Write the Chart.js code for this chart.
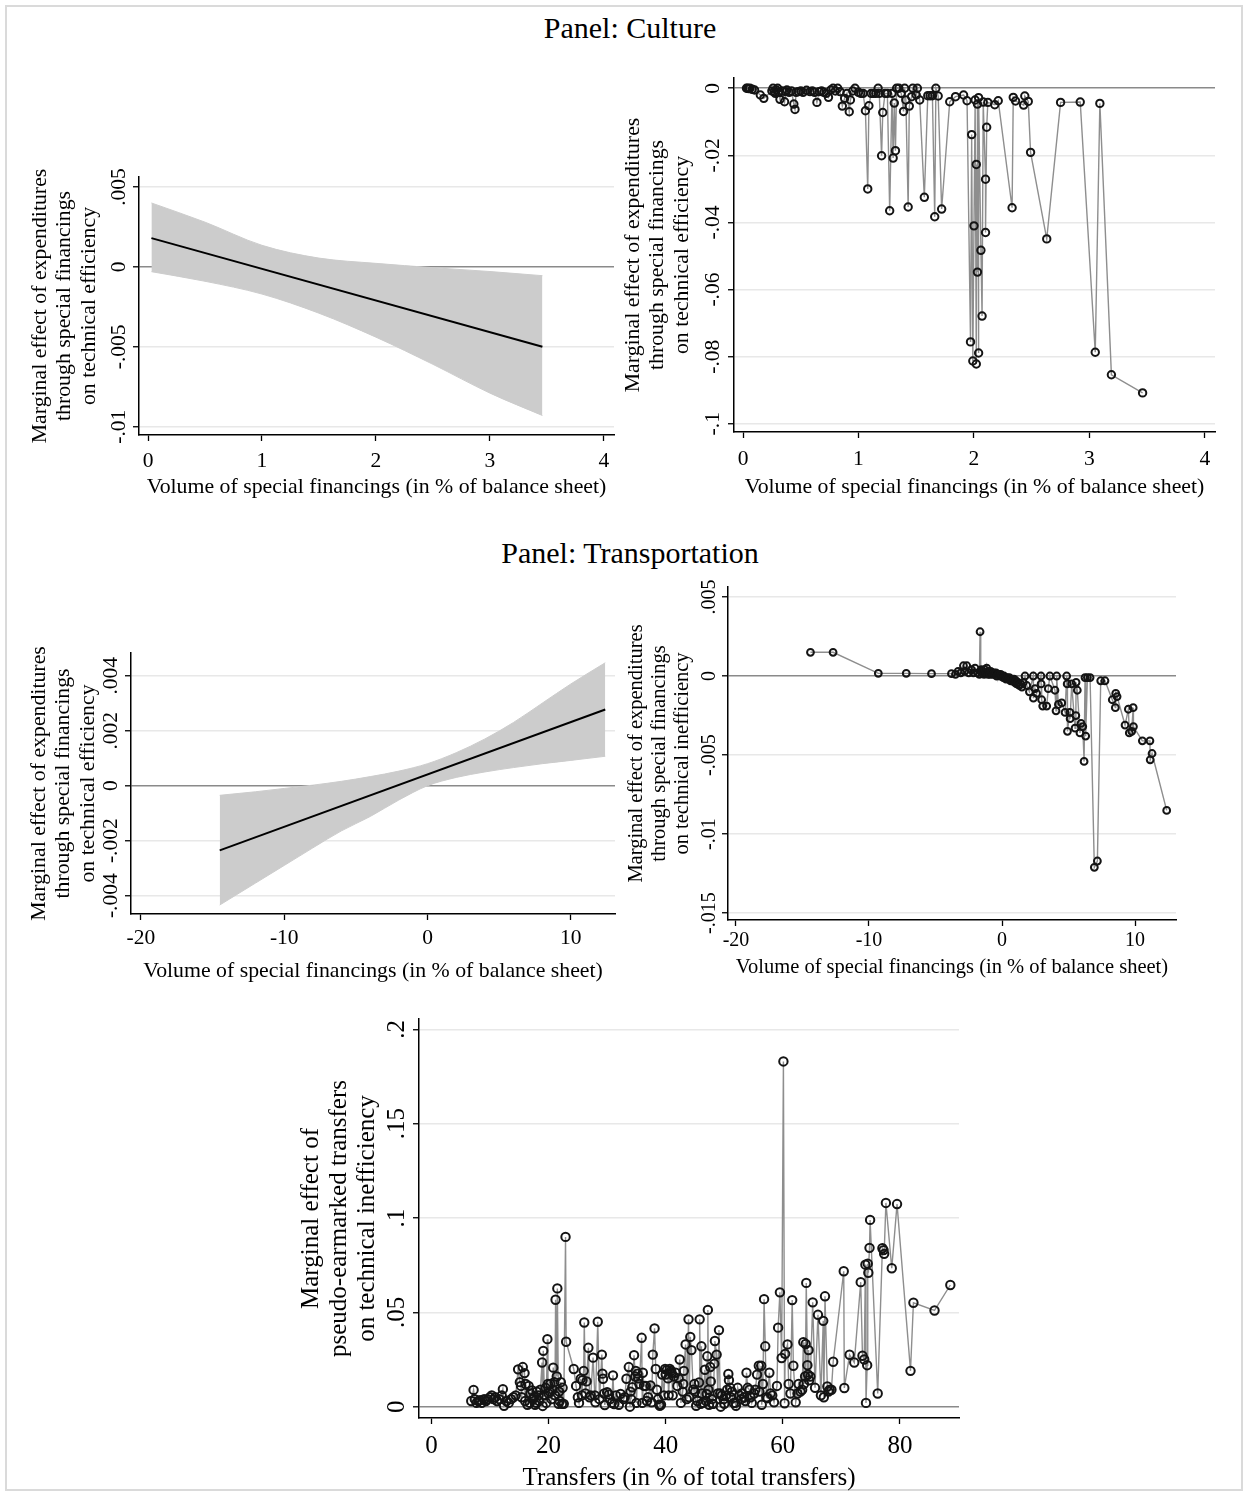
<!DOCTYPE html>
<html>
<head>
<meta charset="utf-8">
<script src="https://cdn.jsdelivr.net/npm/chart.js@4/dist/chart.umd.min.js"></script>
<style>
  html, body { margin: 0; padding: 0; background: #fff; }
  body { position: relative; width: 1247px; height: 1495px; overflow: hidden;
         font-family: "Liberation Serif", "Times New Roman", serif; color: #000; }
  #frame { position: absolute; left: 5px; top: 5px; width: 1234px; height: 1482px;
           border: 2px solid #dadada; }
  .panel-title { position: absolute; left: 0; width: 1260px; text-align: center;
                 font-size: 30px; line-height: 34px; }
  canvas { position: absolute; }
</style>
</head>
<body>
<div id="frame"></div>
<div class="panel-title" style="top:11px">Panel: Culture</div>
<div class="panel-title" style="top:536px">Panel: Transportation</div>

<script>
// ---------- Culture: linear marginal effect with 95% band ----------
const cultureLineX = [0.03, 3.46];
const cultureLineY = [0.0018, -0.0050];
const cultureBandX = [0.03, 0.5, 1.0, 1.5, 2.0, 2.5, 3.0, 3.46];
const cultureBandUpper = [0.0040, 0.0028, 0.00135, 0.00055, 0.00022, -0.00005, -0.00029, -0.00055];
const cultureBandLower = [-0.0003, -0.0009, -0.0017, -0.0029, -0.0044, -0.0061, -0.0079, -0.0093];

// ---------- Culture: observation-level marginal effects ----------
const cultureEffects = [
  [0.03,0],[0.04,0],[0.05,-0.0001],[0.06,0],[0.08,-0.0003],[0.10,-0.0005],[0.15,-0.002],[0.18,-0.003],
  [0.25,-0.0008],[0.26,0],[0.27,-0.001],[0.28,-0.0015],[0.29,-0.0005],[0.30,0],[0.31,-0.0012],[0.32,-0.0033],
  [0.34,-0.0008],[0.36,-0.004],[0.37,-0.001],[0.38,-0.0005],[0.40,-0.0012],[0.42,-0.0008],[0.44,-0.0047],
  [0.45,-0.0063],[0.46,-0.0012],[0.48,-0.001],[0.50,-0.0008],[0.52,-0.0012],[0.55,-0.0006],[0.58,-0.001],
  [0.60,-0.0008],[0.62,-0.0012],[0.64,-0.0042],[0.66,-0.001],[0.68,-0.0008],[0.70,-0.0012],[0.72,-0.0015],
  [0.74,-0.0027],[0.76,-0.0005],[0.78,0],[0.80,-0.0008],[0.82,0],[0.84,-0.001],[0.86,-0.0053],[0.88,-0.003],
  [0.90,-0.0015],[0.92,-0.007],[0.93,-0.0035],[0.95,-0.0008],[0.97,0],[1.00,-0.0012],[1.02,-0.0015],
  [1.04,-0.0015],[1.06,-0.0067],[1.08,-0.030],[1.09,-0.0052],[1.11,-0.0015],[1.13,-0.0015],[1.15,-0.0015],
  [1.17,0],[1.18,-0.0015],[1.20,-0.0201],[1.21,-0.0072],[1.23,-0.0015],[1.25,-0.0015],[1.27,-0.0365],
  [1.29,-0.0015],[1.30,-0.0208],[1.31,-0.0044],[1.32,-0.0186],[1.33,0],[1.35,0],[1.37,-0.0015],[1.39,-0.0069],
  [1.40,0],[1.41,-0.0035],[1.43,-0.0354],[1.44,-0.0053],[1.46,-0.0025],[1.47,0],[1.50,-0.002],[1.51,0],
  [1.53,-0.0035],[1.57,-0.0325],[1.60,-0.0022],[1.62,-0.0022],[1.64,-0.0022],[1.66,-0.0383],[1.67,0],
  [1.69,-0.0023],[1.72,-0.0360],[1.79,-0.004],[1.84,-0.0025],[1.91,-0.002],[1.94,-0.0037],[1.97,-0.0756],
  [1.98,-0.0138],[1.99,-0.0813],[2.00,-0.041],[2.01,-0.0035],[2.02,-0.0822],[2.02,-0.0227],[2.03,-0.0548],
  [2.03,-0.0047],[2.04,-0.0789],[2.04,-0.0028],[2.06,-0.0483],[2.07,-0.0679],[2.08,-0.0041],[2.10,-0.0271],
  [2.10,-0.043],[2.11,-0.0116],[2.12,-0.0042],[2.18,-0.0049],[2.21,-0.0037],[2.33,-0.0356],[2.34,-0.0027],
  [2.36,-0.0038],[2.43,-0.005],[2.44,-0.0023],[2.47,-0.0039],[2.49,-0.0191],[2.63,-0.0449],[2.75,-0.0042],
  [2.92,-0.0041],[3.05,-0.0787],[3.09,-0.0045],[3.19,-0.0854],[3.46,-0.0908]
];

// ---------- Transportation: linear marginal effect with 95% band ----------
const transportLineX = [-14.5, 12.4];
const transportLineY = [-0.00235, 0.00277];
const transportBandX = [-14.5, -12, -10, -8, -6, -4, -2, 0, 2, 4, 6, 8, 10, 12.4];
const transportBandUpper = [-0.00035, -0.00022, -0.0001, 0.00002, 0.00016, 0.00033, 0.00053, 0.0008, 0.0012, 0.0017, 0.0023, 0.003, 0.0037, 0.00447];
const transportBandLower = [-0.00434, -0.00354, -0.0029, -0.00226, -0.00164, -0.00112, -0.00052, 0.0000, 0.0003, 0.0005, 0.00066, 0.0008, 0.00092, 0.00107];

// ---------- Transportation: observation-level marginal effects ----------
const transportEffects = [
  [-14.4,0.0015],[-12.7,0.0015],[-9.3,0.00017],[-7.2,0.00017],[-5.3,0.00015],[-3.8,0.00015],[-3.5,0.0001],
  [-3.3,0.0003],[-3.1,0.0002],[-2.9,0.00065],[-2.8,0.0003],[-2.65,0.00065],[-2.5,0.0002],[-2.3,0.0004],
  [-2.15,0.0002],[-2.03,0.0005],[-1.85,0.0002],[-1.7,0.0001],[-1.65,0.0028],[-1.6,0.0003],[-1.55,0.0004],
  [-1.5,0.0002],[-1.45,0.0003],[-1.35,0.0001],[-1.3,0.0004],[-1.2,0.0002],[-1.15,0.0005],[-1.05,0.0001],
  [-1.0,0.0003],[-0.95,0.0002],[-0.9,0.0001],[-0.85,0.0003],[-0.75,0.0002],[-0.7,0.0001],[-0.6,0.0002],
  [-0.55,0.0001],[-0.45,0.0002],[-0.4,0.0],[-0.3,0.0001],[-0.25,0.0001],[-0.15,0.0],[-0.1,0.0001],[0.0,0.0],
  [0.1,-0.0001],[0.15,0.0],[0.25,-0.0001],[0.3,-0.0002],[0.4,-0.0001],[0.5,-0.0002],[0.55,-0.0001],
  [0.65,-0.0003],[0.7,-0.0002],[0.8,-0.0003],[0.9,-0.0002],[0.95,-0.0004],[1.05,-0.0003],[1.1,-0.0005],
  [1.2,-0.0004],[1.3,-0.0006],[1.4,-0.0005],[1.5,-0.0007],[1.6,-0.0004],[1.73,0],[1.86,-0.0006],[2.06,-0.001],
  [2.35,0],[2.36,-0.0014],[2.48,-0.0008],[2.6,-0.0011],[2.93,0],[2.94,-0.0005],[2.98,-0.0015],[3.06,-0.0019],
  [3.36,-0.0019],[3.48,-0.0008],[3.6,0],[3.98,-0.0009],[4.06,-0.0022],[4.11,0],[4.24,-0.0018],[4.49,-0.0017],
  [4.74,-0.0023],[4.86,0],[4.9,-0.0005],[4.92,-0.0035],[5.1,-0.0023],[5.12,-0.0027],[5.24,-0.0005],
  [5.49,-0.0033],[5.55,-0.0025],[5.57,-0.0004],[5.66,-0.0009],[5.86,-0.0036],[5.94,-0.003],[6.07,-0.0032],
  [6.17,-0.0054],[6.24,-0.0001],[6.29,-0.0038],[6.42,-0.0001],[6.62,-0.0001],[6.94,-0.0121],[7.17,-0.0117],
  [7.42,-0.0003],[7.74,-0.0003],[8.29,-0.0015],[8.52,-0.002],[8.55,-0.0011],[8.65,-0.0013],[9.25,-0.0031],
  [9.5,-0.0021],[9.57,-0.0036],[9.75,-0.0035],[9.86,-0.002],[9.88,-0.0032],[10.55,-0.0041],[11.12,-0.0041],
  [11.14,-0.0053],[11.28,-0.0049],[12.38,-0.0085]
];

// ---------- Pseudo-earmarked transfers ----------
const transferEffects = [
  [6.8,0.003],[7.2,0.0089],[7.4,0.004],[7.7,0.002],[8.0,0.003],[8.3,0.0035],[8.6,0.002],[9.0,0.004],[9.3,0.003],
  [9.6,0.004],[10.0,0.005],[10.3,0.006],[10.6,0.004],[10.9,0.005],[11.2,0.003],[11.6,0.004],[12.0,0.006],
  [12.2,0.0093],[12.4,0.0005],[12.8,0.003],[13.2,0.002],[13.6,0.004],[14.0,0.005],[14.4,0.006],[14.8,0.0198],
  [15.1,0.013],[15.3,0.011],[15.6,0.021],[15.9,0.0178],[16.1,0.012],[16.4,0.001],[16.6,0.011],[16.9,0.007],
  [17.2,0.0086],[17.5,0.005],[17.7,0.001],[18.0,0.008],[18.3,0.006],[18.6,0.009],[18.9,0.0234],[19.0,0.0004],
  [19.1,0.0296],[19.3,0.006],[19.5,0.010],[19.8,0.0358],[19.9,0.012],[20.2,0.008],[20.5,0.004],[20.8,0.0207],
  [21.0,0.013],[21.2,0.0567],[21.4,0.016],[21.5,0.0627],[21.7,0.0015],[21.8,0.008],[22.1,0.013],[22.3,0.0015],
  [22.6,0.0015],[22.9,0.090],[23.0,0.0344],[24.3,0.020],[24.7,0.011],[25.2,0.002],[25.5,0.0148],[25.8,0.014],
  [26.0,0.019],[26.1,0.0446],[26.5,0.0134],[26.8,0.0312],[27.2,0.006],[27.6,0.026],[28.0,0.0023],[28.4,0.045],
  [29.1,0.0276],[29.2,0.0175],[29.3,0.0148],[29.5,0.007],[29.6,0.0009],[30.0,0.0077],[30.5,0.004],[31.0,0.0166],
  [31.2,0.0014],[31.5,0.006],[32.0,0.001],[32.3,0.0068],[32.8,0.004],[33.3,0.0148],[33.7,0.021],[33.9,0.0],
  [34.0,0.008],[34.3,0.0103],[34.6,0.0273],[34.9,0.019],[35.0,0.002],[35.2,0.0175],[35.5,0.012],[35.9,0.0365],
  [36.0,0.002],[36.3,0.011],[36.6,0.011],[37.0,0.005],[37.4,0.0112],[37.6,0.0023],[37.8,0.0276],[38.1,0.0415],
  [38.3,0.020],[38.7,0.004],[38.9,0.001],[39.2,0.001],[39.4,0.017],[39.7,0.006],[39.9,0.020],[40.2,0.0195],
  [40.5,0.006],[40.7,0.020],[40.9,0.019],[41.2,0.006],[41.7,0.018],[42.0,0.011],[42.4,0.025],[42.6,0.002],
  [42.9,0.008],[43.1,0.019],[43.4,0.033],[43.6,0.004],[43.9,0.0463],[44.2,0.037],[44.4,0.030],[44.7,0.009],
  [45.0,0.008],[45.4,0.003],[45.7,0.0128],[45.8,0.0463],[46.0,0.0015],[46.1,0.032],[46.4,0.002],[46.7,0.0196],
  [47.0,0.0068],[47.1,0.0267],[47.2,0.0513],[47.4,0.001],[47.6,0.021],[47.7,0.0134],[48.0,0.0015],[48.1,0.0015],
  [48.3,0.0228],[48.4,0.0348],[48.7,0.0276],[48.9,0.007],[49.1,0.0406],[49.3,0.007],[49.4,0.0],[49.9,0.004],
  [50.3,0.006],[50.7,0.0173],[50.8,0.014],[51.0,0.010],[51.3,0.008],[51.6,0.002],[51.9,0.002],[52.3,0.010],
  [52.6,0.006],[53.0,0.007],[53.4,0.005],[53.8,0.018],[54.0,0.010],[54.3,0.009],[54.7,0.002],[55.1,0.007],
  [55.6,0.017],[55.9,0.0217],[56.3,0.0217],[56.4,0.001],[56.8,0.057],[57.0,0.032],[57.2,0.005],[57.4,0.0045],
  [57.7,0.018],[58.5,0.0023],[59.0,0.011],[59.2,0.0419],[59.5,0.0606],[59.8,0.0258],[60.1,0.183],[60.3,0.0018],
  [60.4,0.028],[60.8,0.033],[61.3,0.007],[61.6,0.0565],[61.8,0.0217],[62.2,0.0023],[62.7,0.012],[63.0,0.008],
  [63.3,0.009],[63.5,0.0342],[63.9,0.0332],[64.0,0.0656],[64.2,0.022],[64.3,0.017],[64.4,0.030],[64.7,0.016],
  [65.1,0.0553],[66.0,0.0487],[66.9,0.0455],[67.0,0.005],[67.2,0.0585],[67.6,0.0107],[68.0,0.009],[68.3,0.009],
  [68.6,0.0238],[70.4,0.0718],[70.5,0.0099],[71.4,0.0275],[72.2,0.0234],[73.3,0.066],[73.6,0.027],[73.9,0.025],
  [74.1,0.0753],[74.2,0.002],[74.4,0.022],[74.5,0.0758],[74.6,0.071],[74.8,0.0842],[74.9,0.099],[76.2,0.007],
  [77.0,0.084],[77.2,0.083],[77.3,0.081],[77.6,0.108],[78.6,0.0734],[79.5,0.1074],[81.8,0.019],[82.3,0.0551],
  [85.9,0.051],[88.6,0.0645]
];
// low-valued observations in the crowded 15-68 range
const transferEffectsCrowd = [
  [15.4,0.005],[16.0,0.003],[16.8,0.002],[17.3,0.004],[17.9,0.002],[18.4,0.003],[19.6,0.002],[20.0,0.007],
  [20.3,0.012],[20.7,0.009],[21.1,0.006],[21.9,0.003],[22.4,0.010],[25.0,0.005],[25.7,0.006],[26.3,0.007],
  [27.0,0.005],[27.9,0.006],[28.7,0.004],[30.3,0.0065],[30.8,0.002],[33.0,0.005],[34.1,0.004],[34.8,0.016],
  [35.3,0.015],[36.1,0.018],[36.8,0.003],[38.5,0.009],[39.0,0.0005],[40.0,0.017],[40.4,0.015],[41.0,0.018],
  [41.4,0.016],[42.2,0.015],[43.0,0.012],[44.0,0.005],[44.9,0.012],[45.2,0.0005],[46.2,0.007],[46.9,0.003],
  [47.3,0.009],[47.9,0.004],[49.6,0.006],[50.0,0.0015],[50.5,0.009],[51.1,0.005],[52.0,0.0005],[52.9,0.004],
  [53.6,0.003],[54.5,0.005],[55.3,0.009],[56.0,0.008],[56.6,0.012],[57.9,0.007],[58.2,0.006],[61.0,0.012],
  [62.5,0.007],[63.6,0.012],[63.8,0.016],[64.5,0.014],[65.5,0.010],[66.5,0.006],[67.8,0.008]
];

// ---------- Axis ticks and labels ----------
const cultureXTicks = [0, 1, 2, 3, 4];
const cultureXLabels = ['0', '1', '2', '3', '4'];
const cultureLineYTicks = [0.005, 0, -0.005, -0.01];
const cultureLineYLabels = ['.005', '0', '-.005', '-.01'];
const cultureDotsYTicks = [0, -0.02, -0.04, -0.06, -0.08, -0.1];
const cultureDotsYLabels = ['0', '-.02', '-.04', '-.06', '-.08', '-.1'];
const transportXTicks = [-20, -10, 0, 10];
const transportXLabels = ['-20', '-10', '0', '10'];
const transportLineYTicks = [0.004, 0.002, 0, -0.002, -0.004];
const transportLineYLabels = ['.004', '.002', '0', '-.002', '-.004'];
const transportDotsYTicks = [0.005, 0, -0.005, -0.01, -0.015];
const transportDotsYLabels = ['.005', '0', '-.005', '-.01', '-.015'];
const transferXTicks = [0, 20, 40, 60, 80];
const transferXLabels = ['0', '20', '40', '60', '80'];
const transferYTicks = [0, 0.05, 0.1, 0.15, 0.2];
const transferYLabels = ['0', '.05', '.1', '.15', '.2'];

const SERIF = '"Liberation Serif", "Times New Roman", serif';
const measureCtx = document.createElement('canvas').getContext('2d');
function textWidth(str, size) {
  measureCtx.font = size + 'px ' + SERIF;
  return measureCtx.measureText(str).width;
}
const pairs = (xs, ys) => xs.map((x, i) => ({ x: x, y: ys[i] }));
const points = list => list.map(p => ({ x: p[0], y: p[1] }));
const byX = (a, b) => a.x - b.x;

function lineSet(xs, ys) {
  return { data: pairs(xs, ys), borderColor: '#000', borderWidth: 2, pointRadius: 0, fill: false };
}
function bandSets(xs, upper, lower) {
  return [
    { data: pairs(xs, upper), borderColor: '#cccccc', borderWidth: 1, backgroundColor: '#cccccc',
      pointRadius: 0, fill: '+1', cubicInterpolationMode: 'monotone' },
    { data: pairs(xs, lower), borderColor: '#cccccc', borderWidth: 1, pointRadius: 0, fill: false,
      cubicInterpolationMode: 'monotone' }
  ];
}
function dotSet(list, r) {
  return { data: points(list).sort(byX), borderColor: '#8e8e8e', borderWidth: 1.4, pointRadius: r,
           pointHoverRadius: r, pointBorderColor: '#141414', pointBorderWidth: 2,
           pointBackgroundColor: 'rgba(255,255,255,0)', fill: false, tension: 0 };
}

function makePanel(p) {
  const tl = 6;
  const lh = p.titleSize * 1.12;
  const padT = 32, padR = 26;
  const left = Math.round(p.yTitleX - lh / 2 - 2);
  const top = p.area.t - padT;
  const bottom = Math.round(p.xTitleY + lh / 2 + 4);
  const cv = document.createElement('canvas');
  cv.width = p.area.r + padR - left;
  cv.height = bottom - top;
  cv.style.left = left + 'px';
  cv.style.top = top + 'px';
  document.body.appendChild(cv);

  const yScaleW = p.area.l - left;
  const xScaleH = bottom - p.area.b;
  const widest = Math.max.apply(null, p.yLabels.map(s => textWidth(s, p.tickSize)));
  const yPad = p.area.l - p.yLabelX - tl - widest / 2;
  const xPad = p.xLabelY - p.tickSize * 0.55 - p.area.b - tl;
  const tickFont = { family: SERIF, size: p.tickSize };
  const titleFont = { family: SERIF, size: p.titleSize, lineHeight: 1.12 };

  return new Chart(cv, {
    type: 'line',
    data: { datasets: p.datasets },
    options: {
      responsive: false, animation: false, devicePixelRatio: 1,
      layout: { padding: { top: padT, right: padR, left: 0, bottom: 0 } },
      plugins: { legend: { display: false }, tooltip: { enabled: false } },
      scales: {
        x: {
          type: 'linear', min: p.xMin, max: p.xMax,
          afterBuildTicks: s => { s.ticks = p.xTicks.map(v => ({ value: v })); },
          afterFit: s => { s.height = xScaleH; },
          ticks: { callback: (v, i) => p.xLabels[i], font: tickFont, color: '#000', padding: xPad,
                   autoSkip: false, maxRotation: 0, minRotation: 0 },
          grid: { drawOnChartArea: false, drawTicks: true, tickLength: tl, tickColor: '#000', tickWidth: 1.3 },
          border: { display: true, color: '#000', width: 1.5 },
          title: { display: true, text: p.xTitle, font: titleFont, color: '#000', padding: { top: 0, bottom: 4 } }
        },
        y: {
          type: 'linear', min: p.yMin, max: p.yMax,
          afterBuildTicks: s => { s.ticks = p.yTicks.map(v => ({ value: v })); },
          afterFit: s => { s.width = yScaleW; },
          ticks: { callback: (v, i) => p.yLabels[i], font: tickFont, color: '#000', padding: yPad,
                   autoSkip: false, minRotation: 90, maxRotation: 90, crossAlign: 'center' },
          grid: {
            drawTicks: true, tickLength: tl, tickColor: '#000', tickWidth: 1.3,
            color: c => (c.tick && c.tick.value === 0) ? '#8a8a8a' : '#e8e8e8',
            lineWidth: c => (c.tick && c.tick.value === 0) ? 1.6 : 1.5
          },
          border: { display: true, color: '#000', width: 1.5 },
          title: { display: true, text: p.yTitle, font: titleFont, color: '#000', padding: { top: 2, bottom: 0 } }
        }
      }
    }
  });
}

const xTitleBalance = 'Volume of special financings (in % of balance sheet)';

makePanel({
  area: { l: 139, t: 177, r: 614, b: 435 },
  xMin: -0.079, xMax: 4.088, yMin: -0.01052, yMax: 0.005625,
  xTicks: cultureXTicks, xLabels: cultureXLabels, yTicks: cultureLineYTicks, yLabels: cultureLineYLabels,
  yTitle: ['Marginal effect of expenditures', 'through special financings', 'on technical efficiency'],
  xTitle: xTitleBalance, tickSize: 21.5, titleSize: 21.8,
  yTitleX: 40, yLabelX: 119, xLabelY: 460, xTitleY: 487,
  datasets: [lineSet(cultureLineX, cultureLineY)].concat(bandSets(cultureBandX, cultureBandUpper, cultureBandLower))
});

makePanel({
  area: { l: 734, t: 78, r: 1215, b: 432 },
  xMin: -0.078, xMax: 4.087, yMin: -0.10246, yMax: 0.00307,
  xTicks: cultureXTicks, xLabels: cultureXLabels, yTicks: cultureDotsYTicks, yLabels: cultureDotsYLabels,
  yTitle: ['Marginal effect of expenditures', 'through special financings', 'on technical efficiency'],
  xTitle: xTitleBalance, tickSize: 21.5, titleSize: 21.8,
  yTitleX: 633, yLabelX: 713, xLabelY: 458, xTitleY: 487,
  datasets: [dotSet(cultureEffects, 3.7)]
});

makePanel({
  area: { l: 131, t: 653, r: 615, b: 914 },
  xMin: -20.69, xMax: 13.08, yMin: -0.004665, yMax: 0.004825,
  xTicks: transportXTicks, xLabels: transportXLabels, yTicks: transportLineYTicks, yLabels: transportLineYLabels,
  yTitle: ['Marginal effect of expenditures', 'through special financings', 'on technical efficiency'],
  xTitle: xTitleBalance, tickSize: 21.5, titleSize: 21.8,
  yTitleX: 39, yLabelX: 111, xLabelY: 937, xTitleY: 971,
  datasets: [lineSet(transportLineX, transportLineY)].concat(bandSets(transportBandX, transportBandUpper, transportBandLower))
});

makePanel({
  area: { l: 728, t: 587, r: 1176, b: 920 },
  xMin: -20.6, xMax: 13.08, yMin: -0.01543, yMax: 0.00563,
  xTicks: transportXTicks, xLabels: transportXLabels, yTicks: transportDotsYTicks, yLabels: transportDotsYLabels,
  yTitle: ['Marginal effect of expenditures', 'through special financings', 'on technical inefficiency'],
  xTitle: xTitleBalance, tickSize: 20, titleSize: 20.5,
  yTitleX: 636, yLabelX: 710, xLabelY: 940, xTitleY: 968,
  datasets: [dotSet(transportEffects, 3.4)]
});

makePanel({
  area: { l: 419, t: 1019, r: 959, b: 1418 },
  xMin: -2.12, xMax: 90.08, yMin: -0.006, yMax: 0.2055,
  xTicks: transferXTicks, xLabels: transferXLabels, yTicks: transferYTicks, yLabels: transferYLabels,
  yTitle: ['Marginal effect of', 'pseudo-earmarked transfers', 'on technical inefficiency'],
  xTitle: 'Transfers (in % of total transfers)', tickSize: 25, titleSize: 25,
  yTitleX: 311, yLabelX: 397, xLabelY: 1445, xTitleY: 1478,
  datasets: [dotSet(transferEffects.concat(transferEffectsCrowd), 4.2)]
});
</script>
</body>
</html>
